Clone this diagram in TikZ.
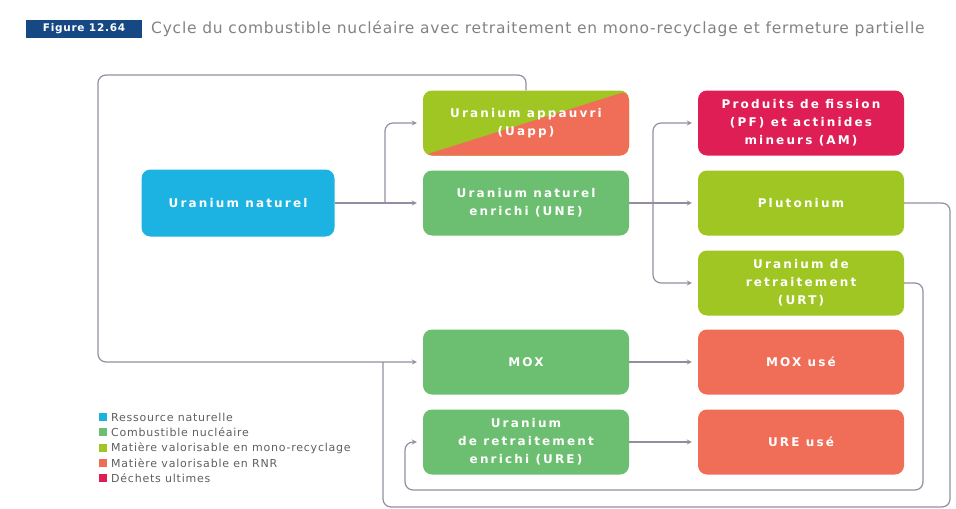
\documentclass[tikz,border=0pt]{standalone}
\usepackage{fontspec}
\usepackage{tikz}
\usetikzlibrary{arrows}
\newfontfamily\boxfont{DejaVu Sans}[LetterSpace=18]
\newfontfamily\legfont{DejaVu Sans}[LetterSpace=7]
\newfontfamily\titfont{DejaVu Sans}[LetterSpace=5]
\definecolor{cblue}{RGB}{28,178,226}
\definecolor{cgreen}{RGB}{108,190,112}
\definecolor{clime}{RGB}{160,198,36}
\definecolor{csalmon}{RGB}{240,110,88}
\definecolor{ccrimson}{RGB}{222,30,85}
\definecolor{cline}{RGB}{150,140,160}
\definecolor{cgray}{RGB}{95,95,95}
\definecolor{ctgray}{RGB}{130,130,130}
\definecolor{ctitle}{RGB}{22,72,132}

\begin{document}
\begin{tikzpicture}[>=stealth,
  box/.style={rounded corners=9bp,minimum width=206bp,minimum height=65bp,inner sep=0pt,align=center,text=white,font=\boxfont\bfseries\fontsize{12bp}{18bp}\selectfont},
  flow/.style={draw=cline,line width=1.2bp,rounded corners=8bp},
  legsq/.style={fill=#1,minimum size=8bp,inner sep=0pt},
  legtext/.style={anchor=west,text=cgray,inner sep=0pt,font=\legfont\fontsize{11bp}{12bp}\selectfont}]

\useasboundingbox (0bp,0bp) rectangle (956bp,-509bp);

\node (FIG) at (84bp,-29bp)[fill=ctitle,text=white,minimum width=116bp,minimum height=18bp,inner sep=0pt,font=\legfont\bfseries\fontsize{10.5bp}{12bp}\selectfont] {Figure 12.64};
\node (TITLE) at (151bp,-29bp)[anchor=west,text=ctgray,inner sep=0pt,font=\titfont\fontsize{15.5bp}{17bp}\selectfont] {Cycle du combustible nucléaire avec retraitement en mono-recyclage et fermeture partielle};

\node (UN) at (238bp,-203bp)[box,fill=cblue,minimum width=193bp,minimum height=67bp] {Uranium naturel};
\node (UAPP) at (526bp,-123bp)[box,fill=clime,path picture={\fill[csalmon] (path picture bounding box.south west) -- (path picture bounding box.north east) -- (path picture bounding box.south east) -- cycle;}] {Uranium appauvri\\(Uapp)};
\node (UNE) at (526bp,-203bp)[box,fill=cgreen] {Uranium naturel\\enrichi (UNE)};
\node (MOX) at (526bp,-362bp)[box,fill=cgreen] {MOX};
\node (URE) at (526bp,-442bp)[box,fill=cgreen] {Uranium\\de retraitement\\enrichi (URE)};
\node (PF) at (801bp,-123bp)[box,fill=ccrimson] {Produits de fission\\(PF) et actinides\\mineurs (AM)};
\node (PU) at (801bp,-203bp)[box,fill=clime] {Plutonium};
\node (URT) at (801bp,-283bp)[box,fill=clime] {Uranium de\\retraitement\\(URT)};
\node (MOXU) at (801bp,-362bp)[box,fill=csalmon] {MOX usé};
\node (UREU) at (801bp,-442bp)[box,fill=csalmon] {URE usé};

\coordinate (J1) at (385bp,-203bp);
\coordinate (J2) at (653bp,-203bp);
\coordinate (J3) at (383bp,-362bp);
\coordinate (C1) at (98bp,-75bp);
\coordinate (C2) at (950bp,-507bp);
\coordinate (C3) at (923bp,-490bp);
\coordinate (C4) at (405bp,-442bp);

\draw [flow,->,shorten >=6bp] (UN.east) -- (UNE.west);
\draw [flow,->,shorten >=6bp] (J1) |- (UAPP.west);
\draw [flow,->,shorten >=6bp] (UAPP.north) |- (C1) |- (MOX.west);
\draw [flow,->,shorten >=6bp] (UNE.east) -- (PU.west);
\draw [flow,->,shorten >=6bp] (J2) |- (PF.west);
\draw [flow,->,shorten >=6bp] (J2) |- (URT.west);
\draw [flow] (PU.east) -| (C2) -| (J3);
\draw [flow,->,shorten >=6bp] (URT.east) -| (C3) -| (C4) -- (URE.west);
\draw [flow,->,shorten >=6bp] (MOX.east) -- (MOXU.west);
\draw [flow,->,shorten >=6bp] (URE.east) -- (UREU.west);

\node (LG1) at (103bp,-417bp)[legsq=cblue] {};
\node (LT1) at (111bp,-417bp)[legtext] {Ressource naturelle};
\node (LG2) at (103bp,-432bp)[legsq=cgreen] {};
\node (LT2) at (111bp,-432bp)[legtext] {Combustible nucléaire};
\node (LG3) at (103bp,-448bp)[legsq=clime] {};
\node (LT3) at (111bp,-448bp)[legtext] {Matière valorisable en mono-recyclage};
\node (LG4) at (103bp,-463bp)[legsq=csalmon] {};
\node (LT4) at (111bp,-463bp)[legtext] {Matière valorisable en RNR};
\node (LG5) at (103bp,-478bp)[legsq=ccrimson] {};
\node (LT5) at (111bp,-478bp)[legtext] {Déchets ultimes};
\end{tikzpicture}
\end{document}
